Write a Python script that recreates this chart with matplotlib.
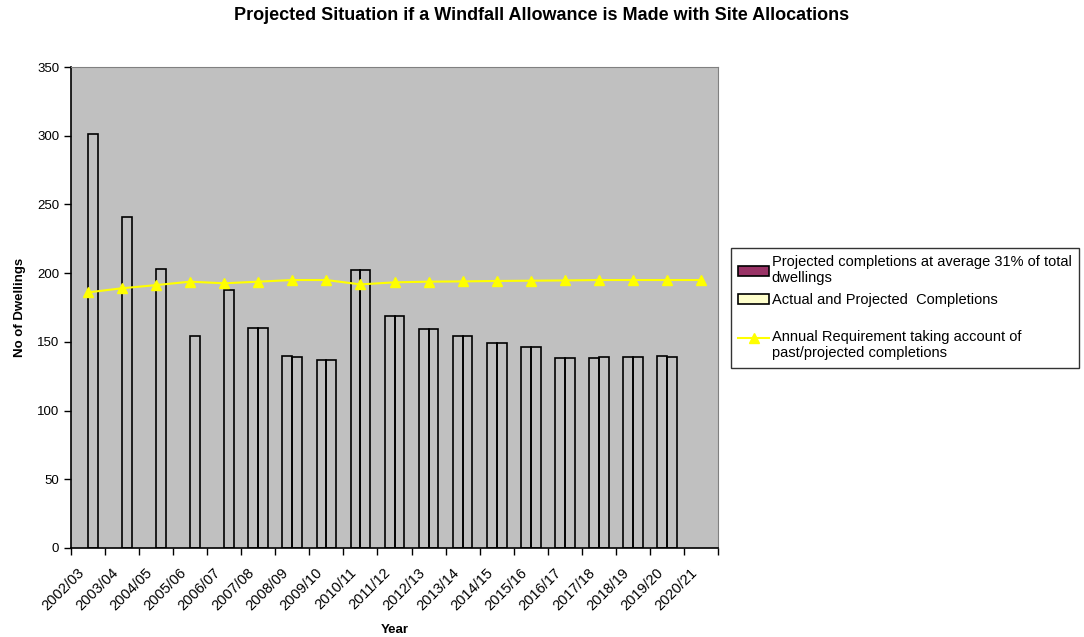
import numpy as np
import matplotlib.pyplot as plt
import matplotlib.transforms as mtransforms
from matplotlib.ticker import FixedLocator

plt.rcParams['font.family'] = ['Liberation Sans', 'DejaVu Sans']

years = ['2002/03', '2003/04', '2004/05', '2005/06', '2006/07', '2007/08', '2008/09',
         '2009/10', '2010/11', '2011/12', '2012/13', '2013/14', '2014/15', '2015/16',
         '2016/17', '2017/18', '2018/19', '2019/20', '2020/21']

nan = np.nan
# projected completions at average 31% (left bar of each pair)
projected_31 = [nan, nan, nan, nan, nan, 160, 140, 137, 202, 169, 159.5, 154, 149, 146.5,
                138.5, 138.5, 139, 139.5, nan]
# actual and projected completions (right bar)
actual_projected = [301, 241, 203, 154, 188, 160, 139, 137, 202, 169, 159, 154, 149, 146,
                    138, 139, 139, 139, nan]
# annual requirement line
requirement = [186, 189, 191.3, 193.8, 192.6, 193.8, 195, 195, 191.8, 193.3, 193.8, 194,
               194.3, 194.5, 194.7, 195, 195, 195, 195]

fs = 9.5
bar_width = 0.29
index = np.arange(len(years))

fig = plt.figure(figsize=(10.84, 6.37), dpi=100)
ax = fig.add_axes([71/1084, 1 - 548/637, (718-71)/1084, (548-67)/637])
ax.set_facecolor('#C0C0C0')

b1 = ax.bar(index - bar_width/2, projected_31, bar_width, facecolor='none',
            edgecolor='black', linewidth=1.2,
            label='Projected completions at average 31% of total\ndwellings')
b2 = ax.bar(index + bar_width/2, actual_projected, bar_width, facecolor='none',
            edgecolor='black', linewidth=1.2,
            label='Actual and Projected  Completions')
ln, = ax.plot(index, requirement, color='#FFFF00', marker='^', markersize=7, linewidth=1.5,
              label='\nAnnual Requirement taking account of\npast/projected completions')

ax.set_xlim(-0.5, len(years) - 0.5)
ax.set_ylim(0, 350)
ax.set_yticks(np.arange(0, 351, 50))
ax.set_xticks(index)
ax.set_xticklabels(years, rotation=45, ha='right', va='center', rotation_mode='anchor',
                   fontsize=10.5)
ax.xaxis.set_minor_locator(FixedLocator(np.arange(-0.5, len(years), 1)))
ax.tick_params(axis='x', which='major', length=0, pad=16)
ax.tick_params(axis='x', which='minor', length=5, direction='out', width=1)
ax.tick_params(axis='y', length=5, direction='out', width=1, labelsize=fs)

# nudge the rotated year labels a little to the left, as in the original
shift = mtransforms.ScaledTranslation(-6/100, 0, fig.dpi_scale_trans)
for lbl in ax.get_xticklabels():
    lbl.set_transform(lbl.get_transform() + shift)

for s in ['top', 'right']:
    ax.spines[s].set_color('#808080')
for s in ['left', 'bottom']:
    ax.spines[s].set_color('black')
    ax.spines[s].set_linewidth(1.2)

ax.set_xlabel('Year', fontsize=fs, fontweight='bold', labelpad=8)
ax.set_ylabel('No of Dwellings', fontsize=fs, fontweight='bold', labelpad=8)
fig.suptitle('Projected Situation if a Windfall Allowance is Made with Site Allocations',
             fontsize=13, fontweight='bold', x=0.5, y=1 - 15/637, va='center')

leg = ax.legend(handles=[b1, b2, ln], loc='upper left', bbox_to_anchor=(731/1084, 1 - 248/637),
                bbox_transform=fig.transFigure, fontsize=10.5, frameon=True,
                fancybox=False, edgecolor='black', labelspacing=0.5,
                handlelength=2.1, handletextpad=0.2, borderpad=0.5, borderaxespad=0)
leg.get_frame().set_linewidth(1)
hs = leg.legend_handles
hs[0].set_facecolor('#993366')
hs[1].set_facecolor('#FFFFCC')

plt.savefig('out.png', dpi=100)
